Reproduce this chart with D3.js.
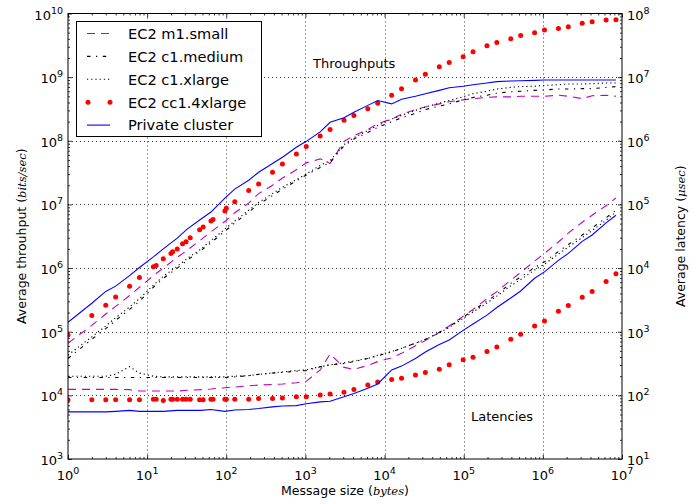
<!DOCTYPE html>
<html><head><meta charset="utf-8">
<script src="https://cdn.jsdelivr.net/npm/d3@7"></script>
<style>body{margin:0;background:#fff} text{font-family:"DejaVu Sans",sans-serif;fill:#000}</style>
</head><body><svg id="c" width="694" height="504"></svg>
<script>
// ---------- DATA ----------
const sizes = [1,2,3,4,6,8,12,16,24,32,48,64,96,128,192,256,384,512,768,1024,1536,2048,3072,4096,6144,8192,12288,16384,24576,32768,49152,65536,98304,131072,196608,262144,393216,524288,786432,1048576,1572864,2097152,3145728,4194304,6291456,8388608];
const dotSizes = [1,2,3,4,6,8,12,13,16,20,21,24,28,31,35,46,51,64,68,96,100,128,192,256,384,512,768,1024,1536,2048,3072,4096,6144,8192,12288,16384,24576,32768,49152,65536,98304,131072,196608,262144,393216,524288,786432,1048576,1572864,2097152,3145728,4194304,6291456,8388608];

// throughput (bits/sec)
const thrM1small = [6.6e4,1.26e5,1.9e5,2.5e5,3.7e5,5.0e5,7.6e5,1.0e6,1.48e6,1.9e6,2.8e6,3.7e6,5.4e6,7.4e6,1.05e7,1.48e7,2.0e7,2.6e7,3.5e7,4.5e7,5.2e7,4.4e7,9.8e7,1.2e8,1.5e8,1.86e8,2.2e8,2.6e8,3.1e8,3.4e8,3.8e8,4.1e8,4.4e8,4.6e8,4.8e8,4.9e8,4.9e8,5.0e8,5.0e8,5.0e8,5.2e8,5.0e8,4.6e8,5.1e8,5.2e8,5.0e8];
const thrC1medium = [3.8e4,7.6e4,1.12e5,1.51e5,2.24e5,3.0e5,5.0e5,6.9e5,1.0e6,1.32e6,1.9e6,2.5e6,3.8e6,5.1e6,7.6e6,1.0e7,1.38e7,1.74e7,2.34e7,2.9e7,3.8e7,4.6e7,8.3e7,1.07e8,1.35e8,1.62e8,2.0e8,2.3e8,2.7e8,3.1e8,3.5e8,3.8e8,4.4e8,4.8e8,5.2e8,5.6e8,5.9e8,6.0e8,6.2e8,6.3e8,6.5e8,6.5e8,6.6e8,6.6e8,6.9e8,7.1e8];
const thrC1xlarge = [4.3e4,8.3e4,1.23e5,1.66e5,2.45e5,3.3e5,5.4e5,7.4e5,1.07e6,1.41e6,2.0e6,2.7e6,4.1e6,5.5e6,8.1e6,1.07e7,1.48e7,1.86e7,2.45e7,3.0e7,4.1e7,4.9e7,8.7e7,1.12e8,1.45e8,1.74e8,2.2e8,2.5e8,3.0e8,3.4e8,3.9e8,4.3e8,4.9e8,5.5e8,6.0e8,6.5e8,6.9e8,7.1e8,7.2e8,7.4e8,7.6e8,7.8e8,7.8e8,7.9e8,8.1e8,8.1e8];
const thrCc14xlarge = [8.9e4,1.8e5,2.6e5,3.5e5,5.2e5,7.1e5,1.05e6,1.1e6,1.4e6,1.7e6,1.8e6,2.0e6,2.4e6,2.6e6,3.0e6,4.0e6,4.4e6,5.5e6,5.8e6,7.9e6,8.7e6,1.1e7,1.66e7,2.1e7,3.2e7,4.3e7,6.2e7,8.1e7,1.19e8,1.5e8,2.1e8,2.5e8,3.2e8,3.9e8,5.2e8,6.6e8,9.0e8,1.11e9,1.45e9,1.7e9,2.1e9,2.5e9,3.1e9,3.5e9,4.0e9,4.5e9,5.0e9,5.5e9,5.8e9,6.2e9,7.0e9,7.4e9,7.9e9,8.0e9];
const thrPrivate = [1.41e5,2.8e5,4.3e5,5.2e5,7.6e5,1.02e6,1.5e6,2.0e6,2.95e6,4.1e6,5.9e6,7.6e6,1.26e7,1.74e7,2.4e7,3.2e7,4.4e7,5.5e7,7.9e7,9.8e7,1.38e8,1.95e8,2.3e8,2.8e8,3.6e8,4.3e8,3.8e8,4.5e8,5.0e8,5.5e8,6.2e8,6.8e8,7.2e8,7.6e8,8.1e8,8.5e8,8.7e8,8.8e8,8.9e8,9.0e8,9.0e8,9.0e8,9.0e8,9.0e8,9.0e8,9.0e8];

// latency (usec)
const latM1small = [124,124,124,124,123,117,117,117,117,120,123,126,132,135,141,145,148,151,158,166,251,447,275,257,295,339,389,457,603,724,977,1230,1740,2240,3310,4270,6460,8510,12900,17000,25700,35500,52500,67600,95500,126000];
const latC1medium = [191,191,191,191,191,191,191,191,191,191,191,191,191,195,204,214,224,229,240,245,282,302,316,339,380,417,479,550,661,759,977,1200,1700,2140,3020,3890,5750,7240,10200,12600,18200,23400,33100,42700,61700,81300];
const latC1xlarge = [200,200,200,214,282,224,200,195,195,195,195,195,195,200,204,214,224,234,245,251,282,302,324,347,380,427,490,550,661,759,955,1170,1620,2040,2820,3630,5250,6610,9330,11500,16600,21400,30200,38900,56200,75900];
const latCc14xlarge = [85,85,85,85,85,85,87,87,83,87,87,87,87,87,87,85,85,87,87,87,87,87,87,89,89,91,95,95,101,105,112,124,145,162,178,186,209,229,257,302,363,398,490,575,759,912,1230,1480,2090,2570,3470,4270,6170,8130];
const latPrivate = [55,55,55,56,58,56,56,56,58,58,58,60,56,59,60,62,66,68,69,74,79,81,95,107,129,151,251,288,380,479,631,741,1050,1320,1820,2400,3390,4370,6920,8710,13200,17000,26300,33100,51300,67600];

const xTickExps = [0,1,2,3,4,5,6,7];
const thrTickExps = [3,4,5,6,7,8,9,10];
const latTickExps = [1,2,3,4,5,6,7,8];
const legendLabels = ["EC2 m1.small","EC2 c1.medium","EC2 c1.xlarge","EC2 cc1.4xlarge","Private cluster"];

// ---------- CHART ----------
const svg = d3.select("#c");
const L = 68, R = 622, T = 13.5, B = 459;
const x  = d3.scaleLog().domain([1,1e7]).range([L,R]);
const yT = d3.scaleLog().domain([1e3,1e10]).range([B,T]);
const yL = d3.scaleLog().domain([1e1,1e8]).range([B,T]);

const minors = (exps) => { const m=[]; exps.slice(0,-1).forEach(e=>{for(let k=2;k<10;k++) m.push(k*Math.pow(10,e));}); return m; };
const majors = (exps) => exps.map(e=>Math.pow(10,e));

svg.append("defs").append("clipPath").attr("id","pc").append("rect")
  .attr("x",L).attr("y",T).attr("width",R-L).attr("height",B-T);

// grid
const grid = svg.append("g").attr("stroke","#000").attr("stroke-width",0.8).attr("stroke-dasharray","1,3");
majors(xTickExps).slice(1,-1).forEach(v=>{
  grid.append("line").attr("x1",Math.round(x(v))+0.5).attr("x2",Math.round(x(v))+0.5).attr("y1",T).attr("y2",B);
});
majors(thrTickExps).slice(1,-1).forEach(v=>{
  grid.append("line").attr("y1",Math.round(yT(v))+0.5).attr("y2",Math.round(yT(v))+0.5).attr("x1",L).attr("x2",R);
});

// axes ticks (inward)
function ax(gen, tr, vals, size){
  const g = svg.append("g").attr("transform",tr)
    .call(gen.tickValues(vals).tickSizeInner(-size).tickSizeOuter(0).tickFormat(""));
  g.select(".domain").remove();
  g.selectAll("line").attr("stroke","#000").attr("stroke-width",0.8);
  g.selectAll("text").remove();
}
ax(d3.axisBottom(x), `translate(0,${B})`, majors(xTickExps), 4);
ax(d3.axisBottom(x), `translate(0,${B})`, minors(xTickExps), 2);
ax(d3.axisTop(x), `translate(0,${T})`, majors(xTickExps), 4);
ax(d3.axisTop(x), `translate(0,${T})`, minors(xTickExps), 2);
ax(d3.axisLeft(yT), `translate(${L},0)`, majors(thrTickExps), 4);
ax(d3.axisLeft(yT), `translate(${L},0)`, minors(thrTickExps), 2);
ax(d3.axisRight(yL), `translate(${R},0)`, majors(latTickExps), 4);
ax(d3.axisRight(yL), `translate(${R},0)`, minors(latTickExps), 2);

// tick labels with superscripts
function powLabel(sel, e, anchor){
  sel.attr("text-anchor",anchor).attr("font-size",13);
  sel.append("tspan").text("10");
  sel.append("tspan").attr("dy",-6).attr("font-size",9.5).text(e);
}
xTickExps.forEach(e=>{
  powLabel(svg.append("text").attr("x",x(Math.pow(10,e))).attr("y",480), e, "middle");
});
thrTickExps.forEach(e=>{
  powLabel(svg.append("text").attr("x",L-5).attr("y",yT(Math.pow(10,e))+6), e, "end");
});
latTickExps.forEach(e=>{
  powLabel(svg.append("text").attr("x",R+5).attr("y",yL(Math.pow(10,e))+6), e, "start");
});

// axis labels
const mathFont = "'DejaVu Serif', serif";
function labelWithMath(sel, plain, math){
  sel.append("tspan").text(plain + " (");
  sel.append("tspan").attr("font-family",mathFont).attr("font-style","italic").attr("font-size",11.5).text(math);
  sel.append("tspan").text(")");
}
labelWithMath(svg.append("text").attr("x",(L+R)/2).attr("y",495).attr("text-anchor","middle").attr("font-size",12.5),
  "Message size","bytes");
labelWithMath(svg.append("text").attr("transform",`translate(26,${(T+B)/2}) rotate(-90)`).attr("text-anchor","middle").attr("font-size",12.5),
  "Average throuhput","bits/sec");
labelWithMath(svg.append("text").attr("transform",`translate(685,${(T+B)/2}) rotate(-90)`).attr("text-anchor","middle").attr("font-size",12.5),
  "Average latency","μsec");

// series
const plot = svg.append("g").attr("clip-path","url(#pc)");
const styles = [
  {color:"#bf00bf", dash:"8,6"},
  {color:"#000", dash:"3.5,5.5,1.2,5.5"},
  {color:"#000", dash:"1.2,3"},
  {color:"#ff0000", dots:true},
  {color:"#0000ff", dash:null}
];
const thrSeries = [thrM1small, thrC1medium, thrC1xlarge, thrCc14xlarge, thrPrivate];
const latSeries = [latM1small, latC1medium, latC1xlarge, latCc14xlarge, latPrivate];

function drawSeries(i, vals, yScale){
  const st = styles[i];
  const xs = st.dots ? dotSizes : sizes;
  const pts = xs.map((s,j)=>[s, vals[j]]);
  if (st.dots){
    plot.append("g").selectAll("circle").data(pts).join("circle")
      .attr("cx",d=>x(d[0])).attr("cy",d=>yScale(d[1])).attr("r",2.5).attr("fill",st.color);
  } else {
    plot.append("path").datum(pts)
      .attr("d", d3.line().x(d=>x(d[0])).y(d=>yScale(d[1])))
      .attr("fill","none").attr("stroke",st.color).attr("stroke-width",1.1)
      .attr("stroke-dasharray", st.dash);
  }
}
thrSeries.forEach((v,i)=>{ drawSeries(i, v, yT); drawSeries(i, latSeries[i], yL); });

// frame
svg.append("rect").attr("x",L).attr("y",T).attr("width",R-L).attr("height",B-T)
  .attr("fill","none").attr("stroke","#000").attr("stroke-width",1);

// annotations
svg.append("text").attr("x",313).attr("y",67.5).attr("font-size",13).text("Throughputs");
svg.append("text").attr("x",471).attr("y",421).attr("font-size",13).text("Latencies");

// legend
const lg = svg.append("g");
lg.append("rect").attr("x",76.5).attr("y",21.5).attr("width",185).attr("height",115)
  .attr("fill","#fff").attr("stroke","#000").attr("stroke-width",1);
legendLabels.forEach((lab,i)=>{
  const cy = 33.5 + i*22.9;
  const st = styles[i];
  if (st.dots){
    [88,110].forEach(cx=>lg.append("circle").attr("cx",cx).attr("cy",cy).attr("r",2.5).attr("fill",st.color));
  } else {
    lg.append("line").attr("x1",87).attr("x2",110).attr("y1",cy).attr("y2",cy)
      .attr("stroke",st.color).attr("stroke-width",1.1).attr("stroke-dasharray",st.dash);
  }
  lg.append("text").attr("x",128).attr("y",cy+5.3).attr("font-size",14.6).text(lab);
});
</script></body></html>
